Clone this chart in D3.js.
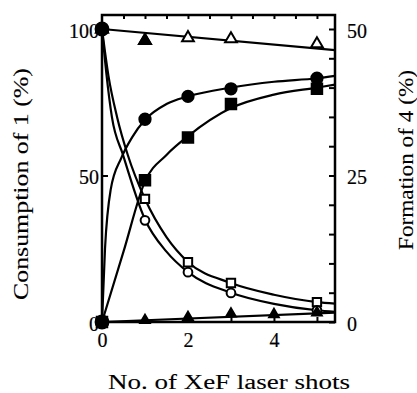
<!DOCTYPE html>
<html>
<head>
<meta charset="utf-8">
<script src="https://cdn.jsdelivr.net/npm/d3@7"></script>
<style>
  body { margin: 0; background: #fff; }
  text { font-family: "Liberation Serif", "Times New Roman", serif; fill: #000; }
</style>
</head>
<body>
<svg id="chart" width="417" height="393"></svg>
<script>
// measured shots
const shots = [0, 1, 2, 3, 5]
const triShots = [0, 1, 2, 3, 4, 5]

// consumption of 1 (left axis, %)
const consSquare = [100, 42, 20.4, 13.3, 6.8]
const consCircle = [100, 34.7, 17, 9.9, 4]
const consTriangle = [100, 96, 97, 96.6, 94.9]

// formation of 4 (right axis, %)
const formCircle = [0, 34.6, 38.5, 39.8, 41.6]
const formSquare = [0, 24.2, 31.5, 37.2, 39.8]
const formTriangle = [0, 0.3, 0.8, 1.4, 1.3, 1.6]

// fitted curves
const fitConsSqX = [0, 0.15, 0.35, 0.6, 1, 1.5, 2, 3, 4, 5, 5.42]
const fitConsSqY = [100, 84, 70, 57, 42, 29, 20.5, 13.3, 9.3, 6.8, 6.3]
const fitConsCiX = [0, 0.1, 0.23, 0.49, 1, 1.5, 2, 3, 4, 5, 5.42]
const fitConsCiY = [100, 85, 70, 57, 35, 24, 17, 10, 6.2, 4, 3.5]
const fitConsTrX = [0, 5.42]
const fitConsTrY = [100, 92.8]
const fitFormCiX = [0, 0.07, 0.2, 0.45, 0.7, 1, 1.5, 2, 3, 4, 5, 5.42]
const fitFormCiY = [0, 12.5, 22.5, 28, 31.5, 34.5, 37.2, 38.5, 40, 41, 41.6, 42]
const fitFormSqX = [0, 0.5, 1, 1.5, 2, 3, 4, 5, 5.42]
const fitFormSqY = [0, 12, 24, 28.5, 31.7, 36.5, 38.8, 40, 40.5]
const fitFormTrX = [0, 5.42]
const fitFormTrY = [0, 1.6]

const xTicks = [0, 2, 4]
const leftTicks = [0, 50, 100]
const rightTicks = [0, 25, 50]

const svg = d3.select('#chart')
const plotL = 102, plotR = 335, plotT = 15, plotB = 322

const x = d3.scaleLinear().domain([0, 5.42]).range([plotL, plotR])
const yL = d3.scaleLinear().domain([0, 100]).range([plotB, 29])
const yR = d3.scaleLinear().domain([0, 50]).range([plotB, 29])

// frame
svg.append('rect')
  .attr('x', plotL).attr('y', plotT)
  .attr('width', plotR - plotL).attr('height', plotB - plotT)
  .attr('fill', 'none').attr('stroke', '#000').attr('stroke-width', 2.5)

// axes with inward ticks
const axL = svg.append('g').attr('transform', `translate(${plotL},0)`)
  .call(d3.axisLeft(yL).tickValues(leftTicks).tickSizeInner(-6).tickSizeOuter(0).tickPadding(3))
const axR = svg.append('g').attr('transform', `translate(${plotR},0)`)
  .call(d3.axisRight(yR).tickValues(d3.range(0, 51, 5)).tickSizeInner(-6).tickSizeOuter(0).tickPadding(12)
    .tickFormat(d => rightTicks.includes(d) ? d : ''))
const axB = svg.append('g').attr('transform', `translate(0,${plotB})`)
  .call(d3.axisBottom(x).tickValues([0, 1, 2, 3, 4, 5]).tickSizeInner(-5).tickSizeOuter(0).tickPadding(11)
    .tickFormat(d => xTicks.includes(d) ? d : ''))
const axT = svg.append('g').attr('transform', `translate(0,${plotT})`)
  .call(d3.axisTop(x).tickValues(d3.range(0.5, 5.4, 0.5)).tickSizeInner(-4).tickSizeOuter(0).tickFormat(''))

for (const ax of [axL, axR, axB, axT]) {
  ax.select('.domain').remove()
  ax.selectAll('line').attr('stroke-width', 2)
  ax.selectAll('text').style('font-size', '20px').attr('stroke', '#000').attr('stroke-width', 0.2)
}
axL.selectAll('text').attr('dy', '0.42em')
axR.selectAll('text').attr('dy', '0.42em')

// axis titles
svg.append('text')
  .attr('transform', 'translate(28,184) rotate(-90)')
  .attr('text-anchor', 'middle')
  .attr('textLength', 232).attr('lengthAdjust', 'spacingAndGlyphs')
  .style('font-size', '22px').attr('stroke', '#000').attr('stroke-width', 0.1)
  .text('Consumption of 1 (%)')
svg.append('text')
  .attr('transform', 'translate(413,160) rotate(-90)')
  .attr('text-anchor', 'middle')
  .attr('textLength', 180).attr('lengthAdjust', 'spacingAndGlyphs')
  .style('font-size', '22px').attr('stroke', '#000').attr('stroke-width', 0.1)
  .text('Formation of 4 (%)')
svg.append('text')
  .attr('x', 229).attr('y', 389)
  .attr('text-anchor', 'middle')
  .attr('textLength', 242).attr('lengthAdjust', 'spacingAndGlyphs')
  .style('font-size', '20px').attr('stroke', '#000').attr('stroke-width', 0.1)
  .text('No. of XeF laser shots')

// curves
const drawFit = (xs, ys, yScale, smooth) => {
  const line = d3.line()
    .x(d => x(d[0])).y(d => yScale(d[1]))
    .curve(smooth ? d3.curveMonotoneX : d3.curveLinear)
  svg.append('path')
    .datum(d3.zip(xs, ys))
    .attr('d', line)
    .attr('fill', 'none').attr('stroke', '#000').attr('stroke-width', 2.2)
}
drawFit(fitConsTrX, fitConsTrY, yL, false)
drawFit(fitConsSqX, fitConsSqY, yL, true)
drawFit(fitConsCiX, fitConsCiY, yL, true)
drawFit(fitFormCiX, fitFormCiY, yR, true)
drawFit(fitFormSqX, fitFormSqY, yR, true)
drawFit(fitFormTrX, fitFormTrY, yR, false)

// markers
const drawMarks = (xs, ys, yScale, type, size, filled) => {
  svg.append('g').selectAll('path')
    .data(d3.zip(xs, ys)).enter()
    .append('path')
    .attr('transform', d => `translate(${x(d[0])},${yScale(d[1])})`)
    .attr('d', d3.symbol().type(type).size(size))
    .attr('fill', filled ? '#000' : '#fff')
    .attr('stroke', '#000').attr('stroke-width', 2)
}
drawMarks(shots, consTriangle, yL, d3.symbolTriangle, 60, false)
drawMarks(shots.slice(0, 2), consTriangle.slice(0, 2), yL, d3.symbolTriangle, 60, true)
drawMarks(shots, consSquare, yL, d3.symbolSquare, 70, false)
drawMarks(shots, consCircle, yL, d3.symbolCircle, 60, false)
drawMarks(shots, formCircle, yR, d3.symbolCircle, 100, true)
drawMarks(shots, formSquare, yR, d3.symbolSquare, 110, true)
drawMarks(triShots, formTriangle, yR, d3.symbolTriangle, 40, true)
drawMarks([0, 0], [100, 0], yL, d3.symbolCircle, 130, true)
</script>
</body>
</html>
